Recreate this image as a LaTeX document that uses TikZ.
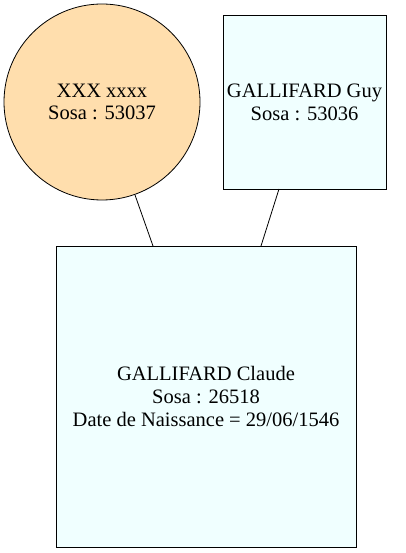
\documentclass[tikz,border=0pt]{standalone}
\usepackage{fontspec}
\setmainfont{Liberation Serif}
\definecolor{circfill}{HTML}{FFDEAD}
\definecolor{boxfill}{HTML}{F0FFFF}
\begin{document}
\begin{tikzpicture}[x=1pt,y=-1pt,
  person/.style={draw=black, line width=0.8pt, fill=boxfill, align=center, font=\fontsize{20.5}{22.8}\selectfont, inner sep=0pt},
  link/.style={draw=black, line width=0.8pt}]
\useasboundingbox (0,0) rectangle (405,553);
\node[person, circle, fill=circfill, minimum size=196pt] (m) at (102,102) {XXX xxxx\\Sosa : 53037};
\node[person, rectangle, minimum width=163pt, minimum height=174pt] (f) at (304.5,102) {GALLIFARD Guy\\Sosa : 53036};
\node[person, rectangle, minimum width=300pt, minimum height=301pt] (c) at (206,396.5) {GALLIFARD Claude\\Sosa : 26518\\Date de Naissance = 29/06/1546};
\coordinate (cm) at (153,246);
\coordinate (cf) at (261,246);
\coordinate (mb) at (135,195);
\coordinate (fb) at (279,189);
\draw[link] (mb) -- (cm);
\draw[link] (fb) -- (cf);
\end{tikzpicture}
\end{document}
